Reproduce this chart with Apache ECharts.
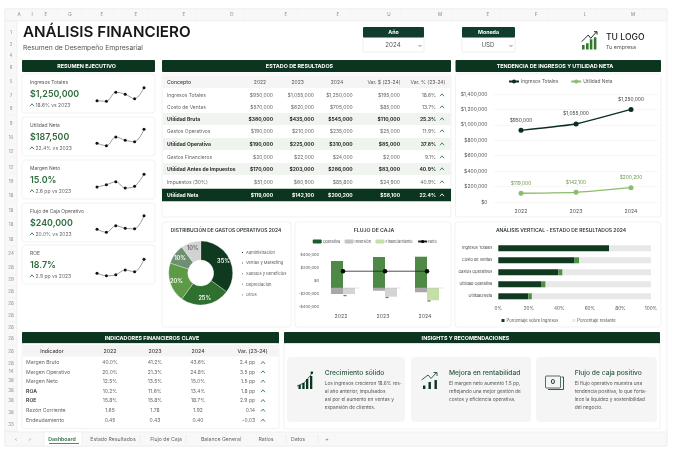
<!DOCTYPE html>
<html>
<head>
<meta charset="utf-8">
<style>html,body{margin:0;padding:0;background:#fff}#main{width:680px;height:453px}</style>
<script src="https://cdn.jsdelivr.net/npm/echarts@6/dist/echarts.min.js"></script>
</head>
<body>
<div id="main"></div>
<script>
// ---- datos ----
var anios = ['2022', '2023', '2024'];

var kpiNombres = ['Ingresos Totales', 'Utilidad Neta', 'Margen Neto', 'Flujo de Caja Operativo', 'ROE'];
var kpiValores = ['$1,250,000', '$187,500', '15.0%', '$240,000', '18.7%'];
var kpiVariacion = ['18.6% vs 2023', '22.4% vs 2023', '2.6 pp vs 2023', '20.0% vs 2023', '2.9 pp vs 2023'];
var sparkIngresos = [25, 23, 59, 51, 33, 77];
var sparkUtilidad = [27, 17, 52, 39, 33, 83];
var sparkMargen = [24, 33, 45, 20, 27, 75];
var sparkFlujo = [27, 15, 41, 31, 29, 81];
var sparkRoe = [19, 9, 13, 32, 25, 75];

var erConceptos = ['Ingresos Totales', 'Costo de Ventas', 'Utilidad Bruta', 'Gastos Operativos', 'Utilidad Operativa', 'Gastos Financieros', 'Utilidad Antes de Impuestos', 'Impuestos (30%)', 'Utilidad Neta'];
var er2022 = ['$950,000', '$570,000', '$380,000', '$190,000', '$190,000', '$20,000', '$170,000', '$51,000', '$119,000'];
var er2023 = ['$1,055,000', '$620,000', '$435,000', '$210,000', '$225,000', '$22,000', '$203,000', '$60,900', '$142,100'];
var er2024 = ['$1,250,000', '$705,000', '$545,000', '$235,000', '$310,000', '$24,000', '$286,000', '$85,800', '$200,200'];
var erVarDolar = ['$195,000', '$85,000', '$110,000', '$25,000', '$85,000', '$2,000', '$83,000', '$24,900', '$58,100'];
var erVarPct = ['18.6%', '13.7%', '25.3%', '11.9%', '37.8%', '9.1%', '40.9%', '40.9%', '22.4%'];
var erNegritas = [2, 4, 6];

var tendIngresos = [929000, 1011000, 1200000];
var tendUtilidad = [113000, 125000, 186000];
var tendIngresosEtiq = ['$950,000', '$1,055,000', '$1,250,000'];
var tendUtilidadEtiq = ['$119,000', '$142,100', '$200,200'];

var gastosNombres = ['Administración', 'Ventas y Marketing', 'Sueldos y Beneficios', 'Depreciación', 'Otros'];
var gastosValores = [35, 25, 20, 10, 10];
var gastosColores = ['#0f3a20', '#2f6f30', '#5d9a45', '#6f8f72', '#d2d2d2'];
var gastosLeyenda = ['#0f3a20', '#2f6f30', '#4f8a3c', '#6aa052', '#707a72'];

var flujoBase = [-112000, -112000, -112000];
var flujoOperativa = [303000, 365000, 369000];
var flujoInversion = [-205000, -154000, -178000];
var flujoFinanciamiento = [-206000, -246000, -302000];
var flujoFinColores = ['#d4d4d4', '#d4d4d4', '#c6dfa6'];
var flujoNeto = [146000, 146000, 146000];
var flujoResto = [-229000, -258000, -312000];

var vertConceptos = ['Ingresos Totales', 'Costo de Ventas', 'Gastos Operativos', 'Utilidad Operativa', 'Utilidad Neta'];
var vertPorcentaje = [72.5, 49.6, 39.3, 28, 19.7];
var vertExtra = [0, 3.4, 2.8, 3, 2.3];
var vertRestante = [27.5, 47, 57.9, 69, 78];

var indNombres = ['Margen Bruto', 'Margen Operativo', 'Margen Neto', 'ROA', 'ROE', 'Razón Corriente', 'Endeudamiento'];
var ind2022 = ['40.0%', '20.0%', '12.5%', '10.2%', '15.8%', '1.65', '0.45'];
var ind2023 = ['41.2%', '21.3%', '13.5%', '11.6%', '15.8%', '1.78', '0.43'];
var ind2024 = ['43.6%', '24.8%', '15.0%', '13.4%', '18.7%', '1.92', '0.40'];
var indVar = ['2.4 pp', '3.5 pp', '1.5 pp', '1.8 pp', '2.9 pp', '0.14', '-0.03'];

var insTitulos = ['Crecimiento sólido', 'Mejora en rentabilidad', 'Flujo de caja positivo'];
var insTextos = [
  ['Los ingresos crecieron 18.6% res-', 'al año anterior, impulsados', 'así por el aumento en ventas y', 'expansión de clientes.'],
  ['El margen neto aumentó 1.5 pp,', 'reflejando una mejor gestión de', 'costos y eficiencia operativa.'],
  ['El flujo operativo muestra una', 'tendencia positiva, lo que forta-', 'lece la liquidez y sostenibilidad', 'del negocio.']
];

var hojas = ['Dashboard', 'Estado Resultados', 'Flujo de Caja', 'Balance General', 'Ratios', 'Datos', '+'];
var columnas = ['A', 'I', 'E', 'G', 'E', 'E', 'E', 'D', 'E', 'E', 'U', 'M', 'E', 'F', 'L', 'M'];
var filas = ['1', '2', '4', '6', '5', '7', '9', '9', '10', '12', '12', '19', '18', '18', '18', '18', '24', '28', '29', '28', '28', '28', '28', '28', '28', '28', '14', '38', '38', '38', '38', '33'];

// ---- posiciones del layout ----
var columnasX = [19, 32, 46, 70, 102, 136, 184, 232, 286, 338, 389, 440, 488, 536, 585, 633];
var filasY = [33, 45, 56, 68, 82, 96, 109, 124, 138, 152, 168, 182, 196, 211, 225, 240, 254, 268, 280, 292, 304, 316, 328, 339, 352, 364, 372, 381, 391, 401, 413, 425];
var kpiTop = [74, 117, 160, 203, 245];
var hojasX = [62, 113, 166, 221, 266, 298, 327];

var FUENTE = 'Inter, "Noto Sans", sans-serif';
var VERDE = '#0c3520';
var elementos = [];

function caja(x, y, w, h, fill, borde, r, z) {
  elementos.push({ type: 'rect', silent: true, z: z || 0, shape: { x: x, y: y, width: w, height: h, r: r || 0 }, style: { fill: fill, stroke: borde || null, lineWidth: borde ? 0.7 : 0 } });
}

function texto(x, y, str, size, color, peso, align) {
  elementos.push({ type: 'text', silent: true, z: 5, style: { x: x, y: y, text: str, fill: color || '#555', align: align || 'left', verticalAlign: 'middle', font: (peso || 400) + ' ' + size + 'px ' + FUENTE } });
}

function trazo(puntos, color, ancho) {
  elementos.push({ type: 'polyline', silent: true, z: 5, shape: { points: puntos }, style: { fill: null, stroke: color, lineWidth: ancho || 0.8 } });
}

function flechita(x, y, color) {
  trazo([[x - 2, y + 1.2], [x, y - 1.2], [x + 2, y + 1.2]], color || '#2e7d4f', 0.9);
}

function encabezado(x, y, w, h, str, centro) {
  caja(x, y, w, h, VERDE, null, 1, 1);
  texto(centro, y + h / 2 + 0.3, str, 5.4, '#fff', 700, 'center');
}

function barras(xs, tops, base, ancho, color) {
  xs.forEach(function (bx, i) { caja(bx, tops[i], ancho, base - tops[i], color, null, 0, 4); });
}

// marco de la hoja
caja(5, 9, 662, 437, '#fff', '#ececec', 1);
caja(5, 9, 662, 12, '#f8f8f8', '#ececec', 0);
caja(5, 21, 12, 411, '#f8f8f8', '#ececec', 0);
columnas.forEach(function (c, i) {
  texto(columnasX[i], 15, c, 4.6, '#888', 400, 'center');
  trazo([[columnasX[i] + 12, 10], [columnasX[i] + 12, 20]], '#f0f0f0', 0.5);
});
filas.forEach(function (f, i) {
  texto(11, filasY[i], f, 4.4, '#888', 400, 'center');
  trazo([[5, filasY[i] + 6], [17, filasY[i] + 6]], '#f0f0f0', 0.5);
});

// cabecera
texto(23, 32.5, 'ANÁLISIS FINANCIERO', 15.2, '#15181a', 600);
texto(23, 47.5, 'Resumen de Desempeño Empresarial', 6.8, '#555', 400);

function selector(x, w, titulo, valor, centro) {
  caja(x, 37, w, 15, '#fff', '#e8e8e8', 1, 1);
  caja(x, 27, w, 10.5, '#0f3d30', null, 1, 2);
  texto(x + w / 2, 32.6, titulo, 5.3, '#fff', 700, 'center');
  texto(centro, 45.5, valor, 6.2, '#555', 400, 'center');
  trazo([[x + w - 5.5, 45], [x + w - 4, 46.5], [x + w - 2.5, 45]], '#555', 0.7);
}
selector(363, 61, 'Año', '2024', 393);
selector(462, 53, 'Moneda', 'USD', 488);

// logo
barras([582, 586, 589.8, 593.8], [45, 43.3, 39.3, 37.3], 49.5, 2.6, '#2f7a2c');
trazo([[581.7, 41.7], [588.3, 35], [590.7, 38.3], [596.7, 31.7]], '#1c2b22', 1);
trazo([[594, 31.7], [597, 31.7], [597, 34.6]], '#1c2b22', 1);
texto(606, 37.5, 'TU LOGO', 8.6, '#1b1f1d', 500);
texto(606, 47, 'Tu empresa', 5.4, '#555', 400);

// resumen ejecutivo
encabezado(22, 60, 133, 12, 'RESUMEN EJECUTIVO', 86.6);
kpiNombres.forEach(function (n, i) {
  var t = kpiTop[i];
  caja(22, t, 133, 39, '#fff', '#ececec', 3, 1);
  texto(30, t + 8.6, n, 4.9, '#555', 400);
  texto(30, t + 20.3, kpiValores[i], 8.9, '#2e6b3e', 600);
  flechita(32, t + 31, '#2e7d4f');
  texto(35.5, t + 31, kpiVariacion[i], 5, '#666', 400);
});

// estado de resultados
encabezado(162, 60, 289, 12, 'ESTADO DE RESULTADOS', 299.5);
caja(162, 74, 289, 143, '#fff', '#ececec', 2, 1);
caja(163, 75.5, 288, 12.5, '#f5f5f5', null, 0, 2);
var erFilasY = [95, 107, 119, 131, 144, 157, 169, 182, 195];
texto(167, 82, 'Concepto', 5.2, '#444', 500);
[[260, anios[0]], [297.7, anios[1]], [337, anios[2]], [384, 'Var. $ (23-24)'], [428, 'Var. % (23-24)']].forEach(function (h) {
  texto(h[0], 82, h[1], 5, '#555', 400, 'center');
});
erConceptos.forEach(function (c, i) {
  var y = erFilasY[i], ultima = i === 8, negrita = ultima || erNegritas.indexOf(i) >= 0;
  if (ultima) caja(162, y - 6.3, 289, 12.6, VERDE, null, 0, 2);
  else if (negrita) caja(163, y - 6, 288, 12, '#f0f4ef', null, 0, 2);
  var col = ultima ? '#fff' : (negrita ? '#2c2c2c' : '#666');
  var peso = negrita ? 700 : 400;
  texto(167, y, c, 5, col, peso);
  texto(273, y, er2022[i], 5, col, peso, 'right');
  texto(314, y, er2023[i], 5, col, peso, 'right');
  texto(352.7, y, er2024[i], 5, col, peso, 'right');
  texto(400, y, erVarDolar[i], 5, col, peso, 'right');
  texto(436, y, erVarPct[i], 5, col, peso, 'right');
  flechita(442, y, ultima ? '#fff' : '#2e7d4f');
});

// tendencia
encabezado(455.5, 60, 205.5, 12, 'TENDENCIA DE INGRESOS Y UTILIDAD NETA', 555);
caja(455.5, 74, 205.5, 143, '#fff', '#ececec', 2, 1);

// tarjetas de graficas
caja(162, 222, 129, 105, '#fff', '#ececec', 3, 1);
texto(226, 230.5, 'DISTRIBUCIÓN DE GASTOS OPERATIVOS 2024', 4.9, '#2f3a33', 600, 'center');
caja(295, 222, 156, 105, '#fff', '#ececec', 3, 1);
texto(374, 230.7, 'FLUJO DE CAJA', 5.2, '#2f3a33', 600, 'center');
caja(455, 222, 206, 105, '#fff', '#ececec', 3, 1);
texto(561, 230.7, 'ANÁLISIS VERTICAL - ESTADO DE RESULTADOS 2024', 5, '#2f3a33', 600, 'center');

// indicadores
encabezado(22, 332, 257, 11.5, 'INDICADORES FINANCIEROS CLAVE', 152);
caja(22, 343.5, 257, 85, '#fff', '#ececec', 2, 1);
caja(23, 345, 255, 11.5, '#f4f4f4', null, 0, 2);
var indFilasY = [362.7, 372, 381.3, 391, 400.7, 410.3, 420.3];
[[52, 'Indicador'], [110, anios[0]], [155, anios[1]], [198, anios[2]], [252.6, 'Var. (23-24)']].forEach(function (h) {
  texto(h[0], 351, h[1], 5.2, '#444', 500, 'center');
});
indNombres.forEach(function (n, i) {
  var y = indFilasY[i];
  texto(26, y, n, 5.2, i === 3 || i === 4 ? '#333' : '#666', i === 3 || i === 4 ? 600 : 400);
  texto(110, y, ind2022[i], 5, '#666', 400, 'center');
  texto(155, y, ind2023[i], 5, '#666', 400, 'center');
  texto(198, y, ind2024[i], 5, '#666', 400, 'center');
  texto(255, y, indVar[i], 5, '#666', 400, 'right');
  flechita(263, y, '#2e7d4f');
});

// insights
encabezado(284, 332, 376, 11.5, 'INSIGHTS Y RECOMENDACIONES', 465.5);
caja(284, 343.5, 376, 85.5, '#fff', '#ececec', 2, 1);
var insCajaX = [287, 411, 536];
var insCajaW = [118, 120, 121];
var insTextoX = [324.7, 449, 574.7];
var insLineasY = [384, 391.7, 399.7, 407.7];
insTitulos.forEach(function (t, i) {
  caja(insCajaX[i], 357, insCajaW[i], 65, '#f4f5f4', null, 4, 2);
  texto(insTextoX[i], 373, t, 6.7, '#2f5a40', 500);
  insTextos[i].forEach(function (l, j) {
    texto(insTextoX[i], insLineasY[j], l, 4.8, '#555', 400);
  });
});
// iconos
barras([298.5, 302.3, 306, 310], [385, 383, 379, 376], 389, 2.3, VERDE);
trazo([[297, 386], [304, 383], [310, 376], [312, 373.5]], VERDE, 0.7);
caja(310.5, 371.5, 2.6, 2.6, VERDE, null, 1, 4);
barras([423, 428.5, 434.5], [385.5, 382, 380], 389, 2.4, VERDE);
trazo([[421.5, 380], [428, 375], [431, 378.5], [436.5, 372.5]], VERDE, 0.8);
trazo([[433.5, 372.5], [437, 372.5], [437, 376]], VERDE, 0.8);
caja(545.5, 376, 15, 12, 'none', VERDE, 1, 4);
trazo([[561.5, 377], [563.5, 377], [563.5, 389.5], [548, 389.5]], VERDE, 0.8);
texto(553, 382.2, '0', 6.5, VERDE, 700, 'center');

// pestañas
caja(5, 432, 662, 14, '#f8f8f8', '#ececec', 0);
texto(16, 439, '<', 5, '#aaa', 400, 'center');
texto(30, 439, '>', 5, '#aaa', 400, 'center');
caja(44, 432, 38, 14, '#fff', '#ececec', 0, 1);
trazo([[49, 443.5], [79, 443.5]], '#2e6b3e', 0.8);
hojas.forEach(function (h, i) {
  texto(hojasX[i], 439, h, 5.2, i === 0 ? '#2e6b3e' : '#666', i === 0 ? 600 : 400, 'center');
  if (i > 0 && i < 6) trazo([[hojasX[i] + (i === 1 ? 27 : 20), 435], [hojasX[i] + (i === 1 ? 27 : 20), 443]], '#e2e2e2', 0.5);
});

// ---- series ----
var grids = [], ejesX = [], ejesY = [], series = [];
var sparkDatos = [sparkIngresos, sparkUtilidad, sparkMargen, sparkFlujo, sparkRoe];
sparkDatos.forEach(function (d, i) {
  grids.push({ left: 97, width: 47, top: kpiTop[i] + 8, height: 25 });
  ejesX.push({ type: 'category', gridIndex: i, boundaryGap: false, show: false, data: d.map(function (v, k) { return k; }) });
  ejesY.push({ type: 'value', gridIndex: i, show: false, min: 0, max: 100 });
  series.push({ type: 'line', xAxisIndex: i, yAxisIndex: i, data: d, smooth: 0.35, symbol: 'circle', symbolSize: 3, lineStyle: { color: '#808080', width: 0.8 }, itemStyle: { color: '#111' }, silent: true, z: 6 });
});

// tendencia: grid 5
grids.push({ left: 493.5, width: 165, top: 94, height: 108 });
ejesX.push({ type: 'category', gridIndex: 5, z: 6, data: anios, axisLine: { show: false }, axisTick: { show: false }, axisLabel: { fontSize: 5.2, color: '#555', fontFamily: FUENTE, margin: 7 } });
ejesY.push({ type: 'value', gridIndex: 5, z: 6, min: 0, max: 1400000, interval: 200000, axisLabel: { fontSize: 5, color: '#555', fontFamily: FUENTE, margin: 6, formatter: function (v) { return '$' + v.toLocaleString('en-US'); } }, splitLine: { lineStyle: { color: '#f2f2f2', width: 0.6 } } });
function lineaTendencia(nombre, datos, etiquetas, color, colorEtiq) {
  return { name: nombre, type: 'line', xAxisIndex: 5, yAxisIndex: 5, data: datos, symbol: 'circle', symbolSize: 5, lineStyle: { color: color, width: 1.4 }, itemStyle: { color: color }, smooth: 0.1, silent: true, z: 6,
    label: { show: true, position: 'top', distance: 5, fontSize: 4.9, color: colorEtiq, fontFamily: FUENTE, formatter: function (p) { return etiquetas[p.dataIndex]; } } };
}
series.push(lineaTendencia('Ingresos Totales', tendIngresos, tendIngresosEtiq, '#0c2f1c', '#444'));
series.push(lineaTendencia('Utilidad Neta', tendUtilidad, tendUtilidadEtiq, '#8cbd6d', '#6d9a52'));

// gastos
series.push({ type: 'pie', name: 'Gastos', center: [200.7, 273], radius: [13, 32], startAngle: 90, silent: true, z: 6,
  data: gastosNombres.map(function (n, i) { return { name: n, value: gastosValores[i], itemStyle: { color: gastosColores[i] }, label: { color: i === 4 ? '#666' : '#fff' } }; }),
  label: { position: 'inside', fontSize: 5.6, fontWeight: 600, fontFamily: FUENTE, formatter: '{c}%' }, labelLine: { show: false }, itemStyle: { borderColor: '#fff', borderWidth: 0.3 } });

// flujo: grid 6
grids.push({ left: 322, width: 126, top: 254.7, height: 52 });
ejesX.push({ type: 'category', gridIndex: 6, z: 6, data: anios, axisLine: { show: false }, axisTick: { show: false }, axisLabel: { fontSize: 5.2, color: '#555', fontFamily: FUENTE, margin: 7, padding: [0, 4, 0, 0] } });
ejesY.push({ type: 'value', gridIndex: 6, z: 6, min: -400000, max: 400000, interval: 200000, axisLine: { show: false }, axisTick: { show: false }, axisLabel: { fontSize: 4, color: '#555', fontFamily: FUENTE, margin: 3, formatter: function (v) { return (v < 0 ? '-$' : '$') + Math.abs(v).toLocaleString('en-US'); } }, splitLine: { show: false } });

function barraFlotante(nombre, datos, colorLeyenda, colores, desde) {
  return { name: nombre, type: 'custom', xAxisIndex: 6, yAxisIndex: 6, silent: true, z: 4, itemStyle: { color: colorLeyenda },
    data: datos.map(function (v, i) { return [i, flujoBase[i], v]; }),
    renderItem: function (params, api) {
      var a = api.coord([api.value(0), api.value(1)]);
      var b = api.coord([api.value(0), api.value(2)]);
      return { type: 'rect', shape: { x: a[0] + desde, y: Math.min(a[1], b[1]), width: 12, height: Math.abs(a[1] - b[1]) }, style: { fill: colores[params.dataIndex] } };
    } };
}
series.push(barraFlotante('Operativa', flujoOperativa, '#1d5b2c', ['#4d8a45', '#4d8a45', '#4d8a45'], -12));
series.push(barraFlotante('Inversión', flujoInversion, '#c4c4c4', ['#a8a8a8', '#a8a8a8', '#a8a8a8'], -12));
series.push(barraFlotante('Financiamiento', flujoFinanciamiento, '#c6dfa6', flujoFinColores, 0));
series.push({ name: 'Neto', type: 'line', xAxisIndex: 6, yAxisIndex: 6, data: flujoNeto, symbol: 'circle', symbolSize: 4.5, silent: true, z: 6, lineStyle: { color: '#222', width: 0.8 }, itemStyle: { color: '#000' } });
series.push({ name: 'Base', type: 'scatter', xAxisIndex: 6, yAxisIndex: 6, data: flujoBase, symbol: 'rect', symbolSize: [28, 0.5], symbolOffset: [2, 0], itemStyle: { color: '#b5b5b5' }, silent: true, z: 5 });
series.push({ name: 'Resto', type: 'scatter', xAxisIndex: 6, yAxisIndex: 6, data: flujoResto, symbol: 'rect', symbolSize: [3, 1.3], symbolOffset: [2, 0], itemStyle: { color: '#555' }, silent: true, z: 5 });

// vertical: grid 7
grids.push({ left: 498.3, width: 152.7, top: 242.3, height: 60 });
ejesX.push({ type: 'value', gridIndex: 7, z: 6, min: 0, max: 100, interval: 20, axisLine: { show: false }, axisTick: { show: false }, splitLine: { show: false }, axisLabel: { fontSize: 4.7, color: '#555', fontFamily: FUENTE, margin: 4, formatter: '{value}%' } });
ejesY.push({ type: 'category', gridIndex: 7, z: 6, inverse: true, data: vertConceptos, axisLine: { show: false }, axisTick: { show: false }, axisLabel: { fontSize: 3.9, color: '#444', fontFamily: FUENTE, margin: 6 } });
function barraVertical(nombre, datos, color) {
  return { name: nombre, type: 'bar', xAxisIndex: 7, yAxisIndex: 7, stack: 'v', barWidth: 6, data: datos, itemStyle: { color: color }, silent: true, z: 4 };
}
series.push(barraVertical('Porcentaje sobre Ingresos', vertPorcentaje, '#0f3a20'));
series.push(barraVertical('Extra', vertExtra, '#4f8f45'));
series.push(barraVertical('Porcentaje restante', vertRestante, '#e8e8e8'));

var chart = echarts.init(document.getElementById('main'));
chart.setOption({
  animation: false,
  backgroundColor: '#fff',
  graphic: { elements: elementos },
  grid: grids,
  xAxis: ejesX,
  yAxis: ejesY,
  series: series,
  legend: [
    { left: 508, top: 79, padding: 0, itemWidth: 10, itemHeight: 5, itemGap: 12, data: ['Ingresos Totales', 'Utilidad Neta'], textStyle: { fontSize: 4.8, color: '#555', fontFamily: FUENTE, padding: [0, 0, 0, -3] }, selectedMode: false },
    { left: 240, top: 250, padding: 0, orient: 'vertical', itemWidth: 3, itemHeight: 3, itemGap: 5.6, icon: 'rect', selectedMode: false, textStyle: { fontSize: 4.1, color: '#555', fontFamily: FUENTE, padding: [0, 0, 0, -3] },
      data: gastosNombres.map(function (n, i) { return { name: n, itemStyle: { color: gastosLeyenda[i] } }; }) },
    { left: 312.7, top: 239.5, padding: 0, itemWidth: 9, itemHeight: 4, itemGap: 4.5, data: ['Operativa', 'Inversión', 'Financiamiento', 'Neto'], textStyle: { fontSize: 3.8, color: '#555', fontFamily: FUENTE, padding: [0, 0, 0, -4] }, selectedMode: false },
    { left: 501.5, top: 318.5, padding: 0, itemWidth: 3, itemHeight: 3, itemGap: 14, icon: 'rect', data: ['Porcentaje sobre Ingresos', 'Porcentaje restante'], textStyle: { fontSize: 4.2, color: '#555', fontFamily: FUENTE, padding: [0, 0, 0, -3] }, selectedMode: false }
  ]
});
</script>
</body>
</html>
